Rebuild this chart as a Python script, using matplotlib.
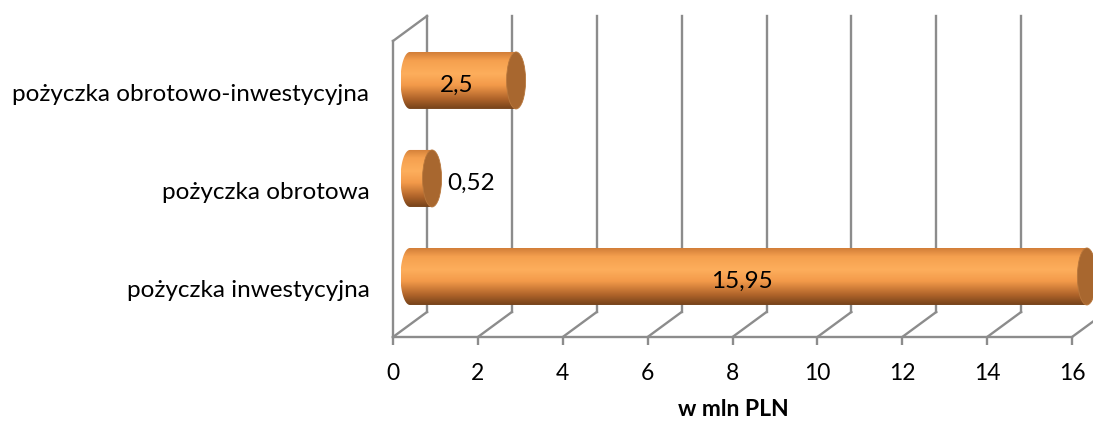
import numpy as np
import matplotlib
matplotlib.use("Agg")
import matplotlib.pyplot as plt
from matplotlib.path import Path
from matplotlib.patches import PathPatch, Ellipse
from matplotlib.colors import LinearSegmentedColormap

# Data
categories = ["pożyczka inwestycyjna", "pożyczka obrotowa", "pożyczka obrotowo-inwestycyjna"]
values = [15.95, 0.52, 2.5]
value_labels = ["15,95", "0,52", "2,5"]
x_ticks = [0, 2, 4, 6, 8, 10, 12, 14, 16]
x_label = "w mln PLN"

FONT = "Lato"
GRID = "#8c8c8c"
FS = 17.5

W, H = 1093, 422
fig = plt.figure(figsize=(W / 100, H / 100), dpi=100)

# axes box of the front plane, in pixels
ax_l, ax_r, ax_b, ax_t = 393, 1072, 337, 41
ax = fig.add_axes([ax_l / W, 1 - ax_b / H, (ax_r - ax_l) / W, (ax_b - ax_t) / H])
xmin, xmax = 0, 16
ymin, ymax = -0.49, 2.53
ax.set_xlim(xmin, xmax)
ax.set_ylim(ymin, ymax)
for s in ax.spines.values():
    s.set_visible(False)

px_x = (ax_r - ax_l) / (xmax - xmin)
px_y = (ax_b - ax_t) / (ymax - ymin)
DX, DY = 34 / px_x, 25 / px_y          # depth of the 3D box in data units

lw = 1.7
# back wall gridlines and floor diagonals
for t in x_ticks:
    ax.plot([t + DX, t + DX], [ymin + DY, ymax + DY], color=GRID, lw=lw, clip_on=False, zorder=1)
    ax.plot([t, t + DX], [ymin, ymin + DY], color=GRID, lw=lw, clip_on=False, zorder=1)
# front floor edge and left side wall
ax.plot([xmin, xmax], [ymin, ymin], color=GRID, lw=lw, clip_on=False, zorder=1)
ax.plot([xmin, xmin], [ymin, ymax], color=GRID, lw=lw, clip_on=False, zorder=1)
ax.plot([xmin, xmin + DX], [ymax, ymax + DY], color=GRID, lw=lw, clip_on=False, zorder=1)

# cylinder bars
body_cmap = LinearSegmentedColormap.from_list(
    "body", [(0.0, "#74421a"), (0.18, "#b0642a"), (0.42, "#f39a4a"),
             (0.62, "#fdae5c"), (0.85, "#f5a04f"), (1.0, "#d27e38")])
bh = 57 / px_y
rx = 9.5 / px_x
grad = np.linspace(0, 1, 256).reshape(-1, 1)

for i, (v, lab) in enumerate(zip(values, value_labels)):
    cx0 = DX / 2
    cy = i + DY / 2
    top, bot = cy + bh / 2, cy - bh / 2
    th = np.linspace(1.5 * np.pi, 0.5 * np.pi, 60)
    arc = np.column_stack([cx0 + rx * np.cos(th), cy + bh / 2 * np.sin(th)])
    verts = np.vstack([[[cx0, top], [cx0 + v, top], [cx0 + v, bot], [cx0, bot]], arc, [[cx0, top]]])
    path = Path(verts, closed=True)
    clip = PathPatch(path, facecolor="none", edgecolor="none", zorder=3, clip_on=False)
    ax.add_patch(clip)
    im = ax.imshow(grad, extent=[cx0 - rx, cx0 + v, bot, top], origin="lower",
                   cmap=body_cmap, aspect="auto", zorder=3, interpolation="bilinear")
    im.set_clip_box(fig.bbox)
    im.set_clip_path(clip)
    ax.add_patch(Ellipse((cx0 + v, cy), 2 * rx, bh, facecolor="#a8672f",
                         edgecolor="#b8773c", lw=0.6, zorder=4, clip_on=False))
    if v < 1.5:
        ax.text(cx0 + v + rx + 0.14, i + DY * 0.3, lab, ha="left", va="center",
                fontsize=FS, family=FONT, color="black", zorder=5)
    else:
        ax.text(v / 2 + DX * 0.3, i + DY * 0.3, lab, ha="center", va="center",
                fontsize=FS, family=FONT, color="black", zorder=5)

ax.set_xlim(xmin, xmax)
ax.set_ylim(ymin, ymax)

ax.set_xticks(x_ticks)
ax.set_xticklabels([str(t) for t in x_ticks], family=FONT, fontsize=16.5)
ax.tick_params(axis="x", length=6, width=lw, color=GRID, pad=13)
ax.set_yticks(range(len(categories)))
ax.set_yticklabels(categories, family=FONT, fontsize=FS)
ax.tick_params(axis="y", length=0, pad=17)

fig.text(733 / W, 1 - 409 / H, x_label, ha="center", va="center",
         fontsize=16.5, fontweight="bold", family=FONT)

fig.savefig("out.png", dpi=100)
